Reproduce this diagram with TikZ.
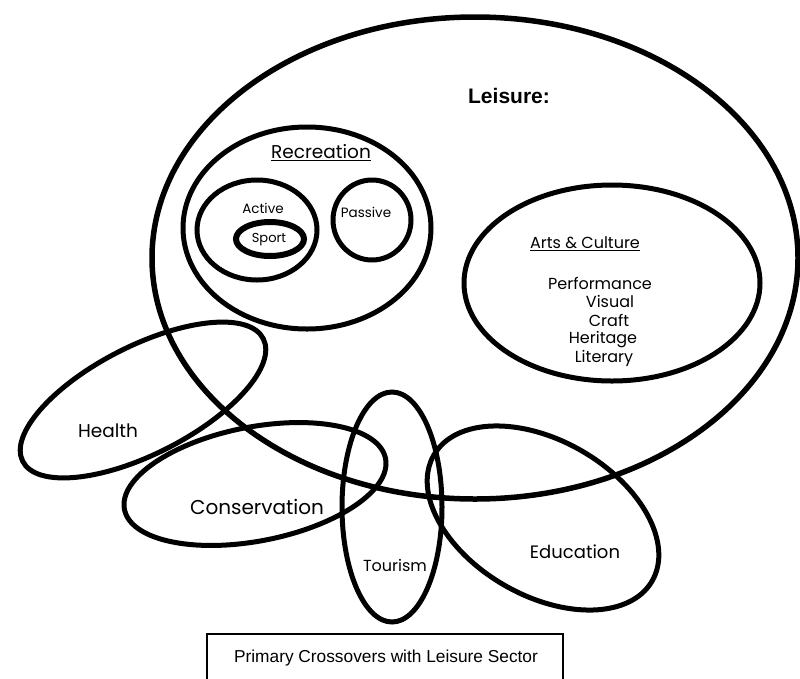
\documentclass[tikz,border=0pt]{standalone}
\usepackage{fontspec}
\setmainfont{Poppins}
\newfontfamily\arialfont{Liberation Sans}
\usetikzlibrary{shapes.geometric}
\begin{document}
\begin{tikzpicture}[x=1pt,y=-1pt,
  ring/.style={draw, ellipse, line width=5pt, inner sep=0pt},
  lbl/.style={inner sep=0pt, font=\fontsize{#1}{#1}\selectfont}]
\useasboundingbox (0,0) rectangle (800,678);

% main leisure field
\node[ring, line width=5.5pt, minimum width=646pt, minimum height=482pt] (leisure) at (475,258) {};
\node[inner sep=0pt, font=\arialfont\bfseries\fontsize{21}{21}\selectfont] (leisuret) at (509,96) {Leisure:};

% recreation and its parts
\node[ring, minimum width=248pt, minimum height=202pt] (rec) at (307,228) {};
\node[lbl=18.5] (rect) at (321,153) {\underline{Recreation}};
\node[ring, minimum width=120pt, minimum height=100pt] (active) at (257,230) {};
\node[lbl=13.5] (activet) at (263,208) {Active};
\node[ring, line width=6pt, minimum width=68pt, minimum height=34pt] (sport) at (270,239) {};
\node[lbl=13] (sportt) at (269,240) {Sport};
\node[ring, minimum width=78pt, minimum height=80pt] (passive) at (372,220) {};
\node[lbl=13.5] (passivet) at (366,212) {Passive};

% arts and culture
\node[ring, minimum width=296pt, minimum height=196pt] (arts) at (612,283) {};
\node[lbl=16] (artst) at (585,244) {\underline{Arts \& Culture}};
\node[lbl=16] (perf) at (600,283) {Performance};
\node[lbl=16] (visual) at (610,301) {Visual};
\node[lbl=16] (craft) at (609,320) {Craft};
\node[lbl=16] (herit) at (603,340) {Heritage};
\node[lbl=16] (liter) at (604,358) {Literary};

% crossover sectors
\node[ring, minimum width=270pt, minimum height=108pt, rotate=27] (health) at (143,400) {};
\node[lbl=18.5] (healtht) at (108,431) {Health};
\node[ring, minimum width=266pt, minimum height=114pt, rotate=11] (cons) at (255,484) {};
\node[lbl=20] (const) at (257,507) {Conservation};
\node[ring, minimum width=100pt, minimum height=230pt] (tour) at (392,507) {};
\node[lbl=16] (tourt) at (395,565) {Tourism};
\node[ring, minimum width=252pt, minimum height=155pt, rotate=-30] (edu) at (543,518) {};
\node[lbl=18] (edut) at (575,552) {Education};

% caption box
\draw[line width=1.2pt] (207,690) |- (563,634) -- (563,690);
\node[inner sep=0pt, font=\arialfont\fontsize{17.3}{17.3}\selectfont] (caption) at (386,658) {Primary Crossovers with Leisure Sector};
\end{tikzpicture}
\end{document}
